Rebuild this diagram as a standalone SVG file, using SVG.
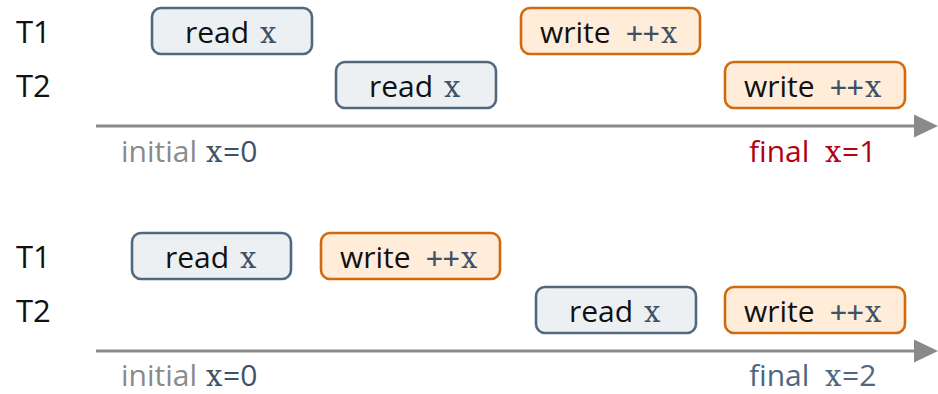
<svg xmlns="http://www.w3.org/2000/svg" width="938" height="394" viewBox="0 0 938 394">
  <defs>
    <style>
      text { font-family: "Open Sans", "Liberation Sans", sans-serif; font-size: 30px; fill: #111; }
      .mono { font-family: "DejaVu Serif", "Liberation Serif", serif; font-size: 29px; fill: #3d5266; }
      .plus { font-family: "DejaVu Sans Mono", "Liberation Mono", monospace; font-size: 28px; fill: #3d5266; }
      .var { fill: #3d5266; }
      .read rect { fill: #ecf0f3; stroke: #50697f; stroke-width: 2.6; }
      .write rect { fill: #ffecd9; stroke: #d06a0c; stroke-width: 2.6; }
      .axis { stroke: #8a8a8a; stroke-width: 3.2; fill: none; }
      .head { fill: #8a8a8a; }
      .muted { fill: #8a8a8a; }
      .bad { fill: #b50010; }
      .good { fill: #4d6880; }
    </style>
  </defs>

  <!-- Schedule 1: interleaved, lost update -->
  <g id="lane-labels-1">
    <text x="16" y="43" style="font-size:31px">T1</text>
    <text x="16" y="97" style="font-size:31px">T2</text>
  </g>

  <g id="s1-t1-read" class="read">
    <rect x="152" y="8" width="160" height="46" rx="9"/>
    <text y="43"><tspan x="185">read</tspan><tspan class="mono" x="260">x</tspan></text>
  </g>
  <g id="s1-t2-read" class="read">
    <rect x="336" y="62" width="160" height="46" rx="9"/>
    <text y="97"><tspan x="369">read</tspan><tspan class="mono" x="444">x</tspan></text>
  </g>
  <g id="s1-t1-write" class="write">
    <rect x="521" y="8" width="179" height="46" rx="9"/>
    <text y="43"><tspan x="540">write</tspan><tspan class="plus" x="626">++</tspan><tspan class="mono" x="661">x</tspan></text>
  </g>
  <g id="s1-t2-write" class="write">
    <rect x="725" y="62" width="180" height="46" rx="9"/>
    <text y="97"><tspan x="744">write</tspan><tspan class="plus" x="830">++</tspan><tspan class="mono" x="865">x</tspan></text>
  </g>

  <g id="s1-axis">
    <line class="axis" x1="96" y1="126" x2="916" y2="126"/>
    <polygon class="head" points="914,114.5 938,126 914,137.5"/>
  </g>
  <g id="s1-labels">
    <text y="162"><tspan class="muted" x="121">initial</tspan><tspan class="mono" x="206">x</tspan><tspan class="var" x="223">=0</tspan></text>
    <text y="162"><tspan class="bad" x="749">final</tspan><tspan class="mono bad" x="825">x</tspan><tspan class="bad" x="842">=1</tspan></text>
  </g>

  <!-- Schedule 2: serial, both increments kept -->
  <g id="lane-labels-2">
    <text x="16" y="268" style="font-size:31px">T1</text>
    <text x="16" y="322" style="font-size:31px">T2</text>
  </g>

  <g id="s2-t1-read" class="read">
    <rect x="132" y="233" width="159" height="46" rx="9"/>
    <text y="268"><tspan x="165">read</tspan><tspan class="mono" x="240">x</tspan></text>
  </g>
  <g id="s2-t1-write" class="write">
    <rect x="321" y="233" width="179" height="46" rx="9"/>
    <text y="268"><tspan x="340">write</tspan><tspan class="plus" x="426">++</tspan><tspan class="mono" x="461">x</tspan></text>
  </g>
  <g id="s2-t2-read" class="read">
    <rect x="536" y="287" width="160" height="46" rx="9"/>
    <text y="322"><tspan x="569">read</tspan><tspan class="mono" x="644">x</tspan></text>
  </g>
  <g id="s2-t2-write" class="write">
    <rect x="725" y="287" width="180" height="46" rx="9"/>
    <text y="322"><tspan x="744">write</tspan><tspan class="plus" x="830">++</tspan><tspan class="mono" x="865">x</tspan></text>
  </g>

  <g id="s2-axis">
    <line class="axis" x1="96" y1="351" x2="916" y2="351"/>
    <polygon class="head" points="914,339.5 938,351 914,362.5"/>
  </g>
  <g id="s2-labels">
    <text y="386"><tspan class="muted" x="121">initial</tspan><tspan class="mono" x="206">x</tspan><tspan class="var" x="223">=0</tspan></text>
    <text y="386"><tspan class="good" x="749">final</tspan><tspan class="mono good" x="825">x</tspan><tspan class="good" x="842">=2</tspan></text>
  </g>
</svg>
